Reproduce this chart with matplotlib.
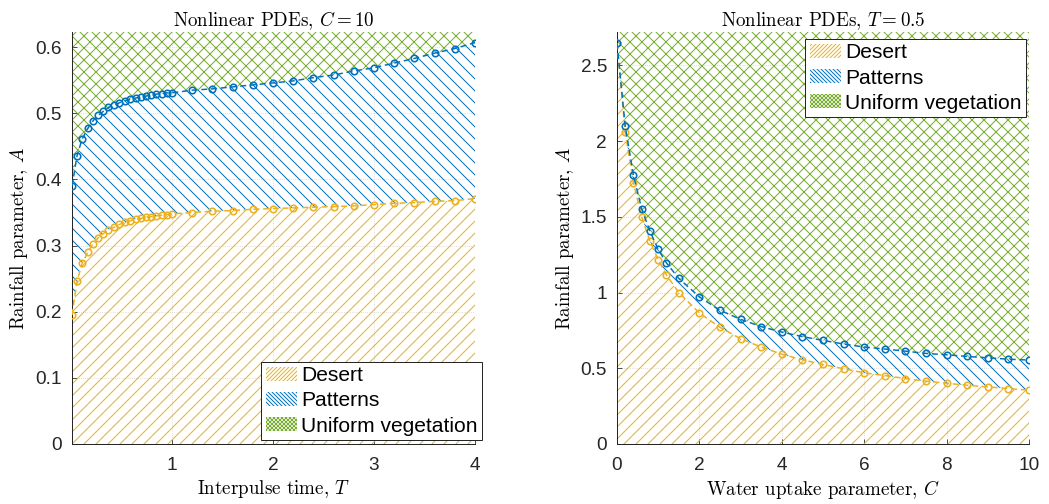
import matplotlib
matplotlib.use('Agg')
import matplotlib.pyplot as plt
from matplotlib.patches import Patch

# data
T = [0.01, 0.06, 0.11, 0.17, 0.22, 0.27, 0.32, 0.37, 0.43, 0.48, 0.53, 0.58,
     0.64, 0.69, 0.74, 0.79, 0.84, 0.90, 0.95, 1.00,
     1.2, 1.4, 1.6, 1.8, 2.0, 2.2, 2.4, 2.6, 2.8, 3.0, 3.2, 3.4, 3.6, 3.8, 4.0]
A_des_T = [0.195, 0.246, 0.273, 0.291, 0.303, 0.312, 0.318, 0.324, 0.328, 0.332,
           0.335, 0.337, 0.340, 0.341, 0.343, 0.344, 0.345, 0.346, 0.347, 0.348,
           0.350, 0.352, 0.353, 0.355, 0.356, 0.357, 0.358, 0.359, 0.360, 0.362,
           0.364, 0.365, 0.367, 0.368, 0.371]
A_pat_T = [0.390, 0.436, 0.461, 0.478, 0.489, 0.497, 0.503, 0.509, 0.512, 0.516,
           0.519, 0.521, 0.523, 0.525, 0.526, 0.528, 0.529, 0.530, 0.531, 0.531,
           0.535, 0.537, 0.540, 0.543, 0.546, 0.549, 0.554, 0.558, 0.564, 0.569,
           0.576, 0.583, 0.591, 0.598, 0.607]

C = [0, 0.2, 0.4, 0.6, 0.8, 1.0, 1.2, 1.5, 2.0, 2.5, 3.0, 3.5, 4.0, 4.5, 5.0,
     5.5, 6.0, 6.5, 7.0, 7.5, 8.0, 8.5, 9.0, 9.5, 10.0]
A_des_C = [2.645, 2.057, 1.722, 1.500, 1.338, 1.218, 1.116, 1.000, 0.865, 0.770,
           0.695, 0.640, 0.593, 0.556, 0.525, 0.497, 0.470, 0.452, 0.432, 0.415,
           0.401, 0.388, 0.377, 0.366, 0.355]
A_pat_C = [2.645, 2.097, 1.773, 1.551, 1.405, 1.285, 1.195, 1.093, 0.971, 0.883,
           0.823, 0.775, 0.739, 0.709, 0.684, 0.660, 0.640, 0.627, 0.613, 0.598,
           0.589, 0.578, 0.569, 0.560, 0.554]

labels = ['Desert', 'Patterns', 'Uniform vegetation']
yellow = '#EDB120'
blue = '#0072BD'
green = '#77AC30'

plt.rcParams['hatch.linewidth'] = 1.0
plt.rcParams['mathtext.fontset'] = 'cm'
plt.rcParams['font.family'] = 'Liberation Sans'

serif = dict(family='cmr10', fontsize=19)

fig = plt.figure(figsize=(1049/72, 504/72), dpi=72)
ax1 = fig.add_axes([72/1049, 60/504, 403/1049, 412/504])
ax2 = fig.add_axes([617/1049, 60/504, 412/1049, 412/504])


def panel(ax, x, ylo, yhi, ytop):
    # hatched regions (at 72 dpi '//' gives ~12 px spacing)
    ax.fill_between(x, 0, ylo, facecolor='none', edgecolor=yellow, hatch='//', lw=0)
    ax.fill_between(x, ylo, yhi, facecolor='none', edgecolor=blue, hatch='\\\\', lw=0)
    ax.fill_between(x, yhi, ytop, facecolor='none', edgecolor=green, hatch='xx', lw=0)
    ax.plot(x, ylo, ls=(0, (4, 2.5)), color=yellow, lw=1.5, marker='o', ms=6.5,
            mfc='none', mew=1.6, zorder=5)
    ax.plot(x, yhi, ls=(0, (4, 2.5)), color=blue, lw=1.5, marker='o', ms=6.5,
            mfc='none', mew=1.6, zorder=5)
    ax.set_ylim(0, ytop)
    ax.grid(True, ls=':', color='#d0d0d0', lw=0.8)
    ax.set_axisbelow(True)
    for s in ['top', 'right']:
        ax.spines[s].set_visible(False)
    for s in ['left', 'bottom']:
        ax.spines[s].set_color('#262626')
        ax.spines[s].set_linewidth(1.0)
    ax.tick_params(direction='in', length=5, labelsize=19, colors='#262626',
                   pad=10)
    ax.tick_params(axis='x', pad=13)
    ax.set_ylabel(r'Rainfall parameter, $A$', labelpad=5, **serif)


panel(ax1, T, A_des_T, A_pat_T, 0.623)
ax1.set_xlim(0.01, 4)
ax1.set_xticks([1, 2, 3, 4])
ax1.set_yticks([0, 0.1, 0.2, 0.3, 0.4, 0.5, 0.6])
ax1.set_yticklabels(['0', '0.1', '0.2', '0.3', '0.4', '0.5', '0.6'])
ax1.set_xlabel(r'Interpulse time, $T$', labelpad=4, **serif)
ax1.set_title(r'Nonlinear PDEs, $C = 10$', pad=5, **serif)

panel(ax2, C, A_des_C, A_pat_C, 2.72)
ax2.set_xlim(0, 10)
ax2.set_xticks([0, 2, 4, 6, 8, 10])
ax2.set_yticks([0, 0.5, 1, 1.5, 2, 2.5])
ax2.set_yticklabels(['0', '0.5', '1', '1.5', '2', '2.5'])
ax2.set_xlabel(r'Water uptake parameter, $C$', labelpad=4, **serif)
ax2.set_title(r'Nonlinear PDEs, $T = 0.5$', pad=5, **serif)

handles = [Patch(facecolor='none', edgecolor=yellow, hatch='//////', lw=0),
           Patch(facecolor='none', edgecolor=blue, hatch='\\\\\\\\\\\\', lw=0),
           Patch(facecolor='none', edgecolor=green, hatch='xxxxxx', lw=0)]
leg_kw = dict(fontsize=21, frameon=True, fancybox=False, edgecolor='#262626',
              framealpha=1, borderaxespad=0, handlelength=1.5, handleheight=0.65,
              handletextpad=0.2, labelspacing=0.3, borderpad=0.2,
              bbox_transform=fig.transFigure)
leg1 = ax1.legend(handles, labels, loc='lower right',
                  bbox_to_anchor=(482/1049, 64/504), **leg_kw)
leg2 = ax2.legend(handles, labels, loc='upper right',
                  bbox_to_anchor=(1026/1049, 465/504), **leg_kw)
for leg in (leg1, leg2):
    leg.get_frame().set_linewidth(1.0)
    leg.set_zorder(10)

fig.savefig('out.png', dpi=72)
